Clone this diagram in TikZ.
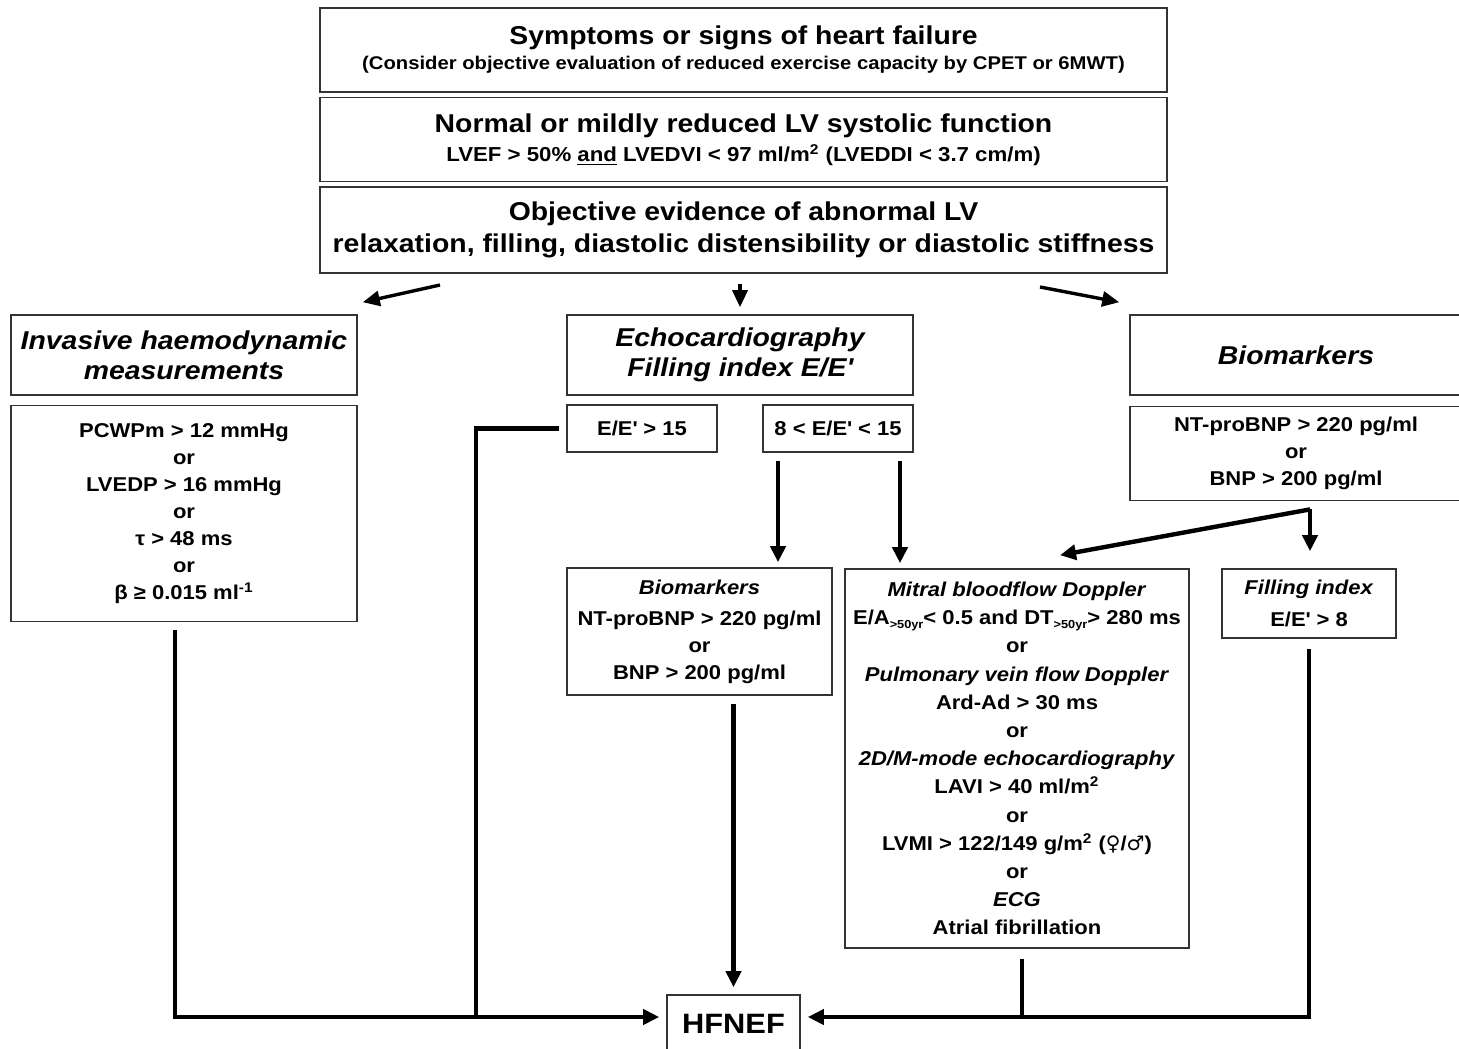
\documentclass[tikz,border=0pt]{standalone}
\usepackage{fontspec}
\setmainfont{Liberation Sans}[FakeStretch=1.1]
\newfontfamily\symbfont{DejaVu Sans}
\usetikzlibrary{arrows.meta, positioning}
\newcommand{\EEp}{E/E\textquotesingle}
\newcommand{\agesub}{\raisebox{-1.8pt}{\fontsize{5.8}{6}\selectfont >50yr}}
\tikzset{
	block/.style={
		rectangle,
		draw=black!80,
		line width=0.8pt,
		align=center,
		inner sep=0pt,
		font=\fontsize{10}{13.5}\selectfont\bfseries
	},
	title/.style={
		block,
		minimum width=423.5pt,
		minimum height=42pt,
		font=\fontsize{12.9}{14.5}\selectfont\bfseries
	},
	header/.style={
		block,
		minimum width=173pt,
		minimum height=40pt,
		font=\fontsize{12.9}{15}\selectfont\bfseries\itshape
	},
	arrow/.style={line width=2.2pt,-{Triangle[length=8pt,width=7.5pt]}},
	link/.style={line width=2.2pt},
	toparrow/.style={line width=1.7pt,-{Triangle[length=8.5pt,width=7.5pt]}}
}

\begin{document}
\begin{tikzpicture}[x=0.5pt,y=-0.5pt]
	\useasboundingbox (0,0) rectangle (1459,1048);
	\clip (0,0) rectangle (1459,1048);

	% top column
	\node (sym) [title] at (743.5,50) {\raisebox{-2pt}{Symptoms or signs of heart failure}\\ {\fontsize{9.2}{10}\selectfont (Consider objective evaluation of reduced exercise capacity by CPET or 6MWT)}};
	\node (norm) [title, below=2pt of sym] {Normal or mildly reduced LV systolic function\\ {\fontsize{10.1}{11}\selectfont LVEF > 50\% \underline{and} LVEDVI < 97 ml/m\textsuperscript{2} (LVEDDI < 3.7 cm/m)}};
	\node (evid) [title, minimum height=43pt, below=2pt of norm, font=\fontsize{12.9}{16}\selectfont\bfseries] {Objective evidence of abnormal LV\\ relaxation, filling, diastolic distensibility or diastolic stiffness};

	% three branches
	\node (inv) [header] at (184,355) {Invasive haemodynamic\\ measurements};
	\node (invcrit) [block, minimum width=173pt, minimum height=108pt, below=4.5pt of inv] {PCWPm > 12 mmHg\\ or\\ LVEDP > 16 mmHg\\ or\\ τ > 48 ms\\ or\\ β ≥ 0.015 ml\textsuperscript{-1}};

	\node (echo) [header] at (740,355) {Echocardiography\\ Filling index \EEp};
	\node (eehigh) [block, minimum width=75pt, minimum height=23.5pt] at (642,428.5) {\EEp{} > 15};
	\node (eemid) [block, minimum width=75pt, minimum height=23.5pt] at (838,428.5) {8 < \EEp{} < 15};

	\node (bio) [header, minimum width=166pt] at (1296,355) {Biomarkers};
	\node (biocrit) [block, minimum width=166pt, minimum height=47pt, below=5pt of bio] {NT-proBNP > 220 pg/ml\\ or\\ BNP > 200 pg/ml};

	% second level
	\node (bio2) [block, minimum width=132.5pt, minimum height=63.5pt] at (699.5,631.5) {\textit{Biomarkers}\\[2pt] NT-proBNP > 220 pg/ml\\ or\\ BNP > 200 pg/ml};
	\node (mitral) [block, minimum width=172pt, minimum height=189.5pt, font=\fontsize{10}{14.1}\selectfont\bfseries] at (1017,758.5) {\textit{Mitral bloodflow Doppler}\\ E/A\agesub< 0.5 and DT\agesub> 280 ms\\ or\\ \textit{Pulmonary vein flow Doppler}\\ Ard-Ad > 30 ms\\ or\\ \textit{2D/M-mode echocardiography}\\ LAVI > 40 ml/m\textsuperscript{2}\\ or\\ LVMI > 122/149 g/m\textsuperscript{2} ({\symbfont ♀}/{\symbfont ♂})\\ or\\ \textit{ECG}\\ Atrial fibrillation};
	\node (fill) [block, minimum width=87pt, minimum height=34.5pt] at (1309,603.5) {\textit{Filling index}\\[2.5pt] \EEp{} > 8};

	\node (hfnef) [block, minimum width=66.5pt, minimum height=28.5pt, font=\fontsize{14}{16}\selectfont\bfseries] at (733.5,1023.5) {HFNEF};

	% junctions
	\coordinate (jleft) at (476,1017);
	\coordinate (bsplit) at ([xshift=7pt,yshift=-4pt]biocrit.south);

	% arrows from the top
	\draw [toparrow] ([xshift=-151.75pt,yshift=-5.5pt]evid.south) -- ([xshift=2.5pt,yshift=6pt]inv.north east);
	\draw [toparrow, shorten <=5pt, shorten >=3.5pt] (evid.south -| echo.north) -- (echo.north);
	\draw [toparrow] ([xshift=148.25pt,yshift=-6.5pt]evid.south) -- ([xshift=-5pt,yshift=6pt]bio.north west);

	% echo branch
	\draw [arrow, shorten <=4pt, shorten >=2.5pt] ([xshift=-30pt]eemid.south) -- ([xshift=-30pt]eemid.south |- bio2.north);
	\draw [arrow, shorten <=4pt, shorten >=2.5pt] ([xshift=31pt]eemid.south) -- ([xshift=31pt]eemid.south |- mitral.north);
	\draw [link] ([xshift=-3.5pt]eehigh.west) -| (jleft);

	% biomarker branch
	\draw [arrow] (bsplit) -- ([xshift=21.5pt,yshift=6.5pt]mitral.north);
	\draw [arrow, shorten >=8.5pt] (bsplit) -- (bsplit |- fill.north);

	% towards HFNEF
	\draw [arrow, shorten <=4pt, shorten >=3.5pt] ([xshift=-4.5pt]invcrit.south) |- ([yshift=3.25pt]hfnef.west);
	\draw [arrow, shorten <=4pt, shorten >=3.5pt] (bio2.south -| hfnef.north) -- (hfnef.north);
	\draw [link, shorten <=5pt] ([xshift=2.5pt]mitral.south) -- ([xshift=2.5pt,yshift=3.25pt]mitral.south |- hfnef.east);
	\draw [arrow, shorten <=5pt, shorten >=3.5pt] (fill.south) |- ([yshift=3.25pt]hfnef.east);
\end{tikzpicture}
\end{document}
